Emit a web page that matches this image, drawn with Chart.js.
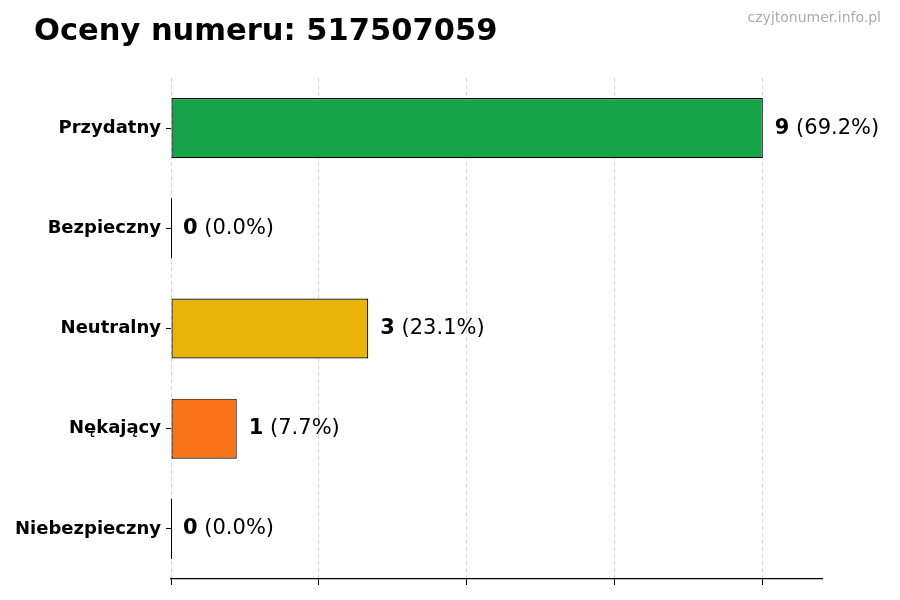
<!DOCTYPE html>
<html lang="pl">
<head>
    <meta charset="UTF-8">
    <title>Oceny numeru</title>
    <script src="https://cdn.jsdelivr.net/npm/chart.js"></script>
    <style>
        html, body { margin: 0; padding: 0; background: #fff; }
        #chartWrap { width: 900px; height: 600px; position: relative; }
    </style>
</head>
<body>
    <div id="chartWrap">
        <canvas id="ratingChart" width="900" height="600"></canvas>
    </div>

    <script>
        const titleText = 'Oceny numeru: 517507059';
        const siteText = 'czyjtonumer.info.pl';
        const categories = ['Przydatny', 'Bezpieczny', 'Neutralny', 'Nękający', 'Niebezpieczny'];
        const counts = [9, 0, 3, 1, 0];
        const percents = ['69.2%', '0.0%', '23.1%', '7.7%', '0.0%'];
        const barColors = ['#16a34a', '#3b82f6', '#eab308', '#f97316', '#dc2626'];
        const xTicks = [0, 2.25, 4.5, 6.75, 9];

        const FONT = '"DejaVu Sans", sans-serif';

        // title + watermark on top of the canvas
        const headerPlugin = {
            id: 'header',
            afterDraw(chart) {
                const ctx = chart.ctx;
                ctx.save();
                ctx.textBaseline = 'alphabetic';
                ctx.fillStyle = '#000';
                ctx.textAlign = 'left';
                ctx.font = 'bold 30.5px ' + FONT;
                ctx.fillText(titleText, 34, 40);
                ctx.fillStyle = '#aaaaaa';
                ctx.textAlign = 'right';
                ctx.font = '14px ' + FONT;
                ctx.fillText(siteText, 881, 22);
                ctx.restore();
            }
        };

        // value labels and the thin line of empty bars
        const valuePlugin = {
            id: 'values',
            afterDatasetsDraw(chart) {
                const ctx = chart.ctx;
                const xs = chart.scales.x;
                const meta = chart.getDatasetMeta(0);
                ctx.save();
                meta.data.forEach((bar, i) => {
                    const v = counts[i];
                    const x0 = xs.getPixelForValue(0);
                    if (v === 0) {
                        ctx.strokeStyle = '#000';
                        ctx.lineWidth = 1;
                        ctx.beginPath();
                        ctx.moveTo(x0 + 0.5, bar.y - bar.height / 2);
                        ctx.lineTo(x0 + 0.5, bar.y + bar.height / 2);
                        ctx.stroke();
                    }
                    let x = xs.getPixelForValue(v) + 12;
                    ctx.textBaseline = 'middle';
                    ctx.textAlign = 'left';
                    ctx.fillStyle = '#000';
                    ctx.font = 'bold 21px ' + FONT;
                    const num = String(v);
                    ctx.fillText(num, x, bar.y);
                    x += ctx.measureText(num).width;
                    ctx.font = '21px ' + FONT;
                    ctx.fillText(' (' + percents[i] + ')', x, bar.y);
                });
                ctx.restore();
            }
        };

        new Chart(document.getElementById('ratingChart').getContext('2d'), {
            type: 'bar',
            data: {
                labels: categories,
                datasets: [{
                    data: counts,
                    backgroundColor: barColors,
                    borderColor: '#000',
                    borderWidth: 1.2,
                    borderSkipped: false,
                    barPercentage: 0.6,
                    categoryPercentage: 1.0
                }]
            },
            options: {
                indexAxis: 'y',
                responsive: false,
                animation: false,
                layout: { padding: { top: 78, right: 78, bottom: 15, left: 0 } },
                plugins: {
                    legend: { display: false },
                    tooltip: { enabled: false }
                },
                scales: {
                    x: {
                        min: 0,
                        max: 9.9,
                        afterBuildTicks(scale) {
                            scale.ticks = xTicks.map(v => ({ value: v }));
                        },
                        ticks: { display: false },
                        grid: {
                            color: '#d4d4d4',
                            drawTicks: true,
                            tickLength: 6,
                            tickColor: '#000',
                            tickBorderDash: []
                        },
                        border: { display: true, color: '#000', width: 1.2, dash: [4, 3] }
                    },
                    y: {
                        afterFit(scale) { scale.width = 171; },
                        ticks: {
                            color: '#000',
                            padding: 5,
                            font: { family: FONT, size: 18, weight: 'bold' }
                        },
                        grid: {
                            offset: false,
                            drawOnChartArea: false,
                            drawTicks: true,
                            tickLength: 5,
                            tickColor: '#000'
                        },
                        border: { display: false }
                    }
                }
            },
            plugins: [headerPlugin, valuePlugin]
        });
    </script>
</body>
</html>
